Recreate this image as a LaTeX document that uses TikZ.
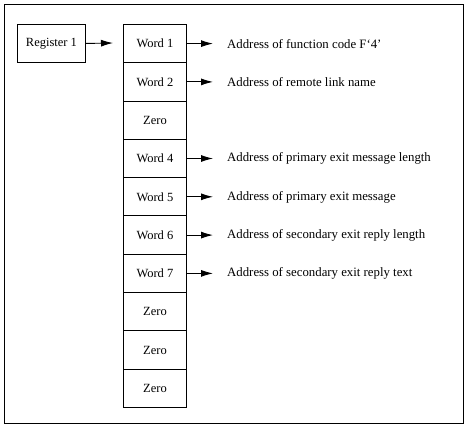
\documentclass[tikz,border=0pt]{standalone}
\usepackage{fontspec}
\setmainfont{Liberation Serif}
\usetikzlibrary{arrows.meta}
\begin{document}
\begin{tikzpicture}[x=1pt,y=-1pt,
  cell/.style={draw,line width=0.9pt,minimum width=63pt,minimum height=38.3pt,inner sep=0pt,font=\fontsize{12.5}{14}\selectfont,anchor=north west},
  lbl/.style={anchor=west,inner sep=0pt,font=\fontsize{12.8}{14}\selectfont},
  ptr/.style={line width=0.9pt,-{Latex[length=12pt,width=7pt]}}]
\useasboundingbox (0,0) rectangle (467,428);
\draw[line width=0.9pt] (4,4) rectangle (463,423);
\node[cell,minimum width=68pt,minimum height=38pt] (reg) at (17,24) {Register 1};
\node[cell] (w1) at (123,24) {Word 1};
\node[cell] (w2) at (123,62.3) {Word 2};
\node[cell] (z1) at (123,100.6) {Zero};
\node[cell] (w4) at (123,138.9) {Word 4};
\node[cell] (w5) at (123,177.2) {Word 5};
\node[cell] (w6) at (123,215.5) {Word 6};
\node[cell] (w7) at (123,253.8) {Word 7};
\node[cell] (z2) at (123,292.1) {Zero};
\node[cell] (z3) at (123,330.4) {Zero};
\node[cell] (z4) at (123,368.7) {Zero};
\coordinate (regend) at (113,43);
\draw[ptr] (reg.east) -- (regend);
\node[lbl] (a1) at (227,44) {Address of function code F‘4’};
\node[lbl] (a2) at (227,82) {Address of remote link name};
\node[lbl] (a4) at (227,158) {Address of primary exit message length};
\node[lbl] (a5) at (227,197) {Address of primary exit message};
\node[lbl] (a6) at (227,235) {Address of secondary exit reply length};
\node[lbl] (a7) at (227,273) {Address of secondary exit reply text};
\foreach \w/\a in {w1/a1,w2/a2,w4/a4,w5/a5,w6/a6,w7/a7}{
  \draw[ptr] (\w.east) -- ([xshift=-14pt]\a.west |- \w.east);
}
\end{tikzpicture}
\end{document}
